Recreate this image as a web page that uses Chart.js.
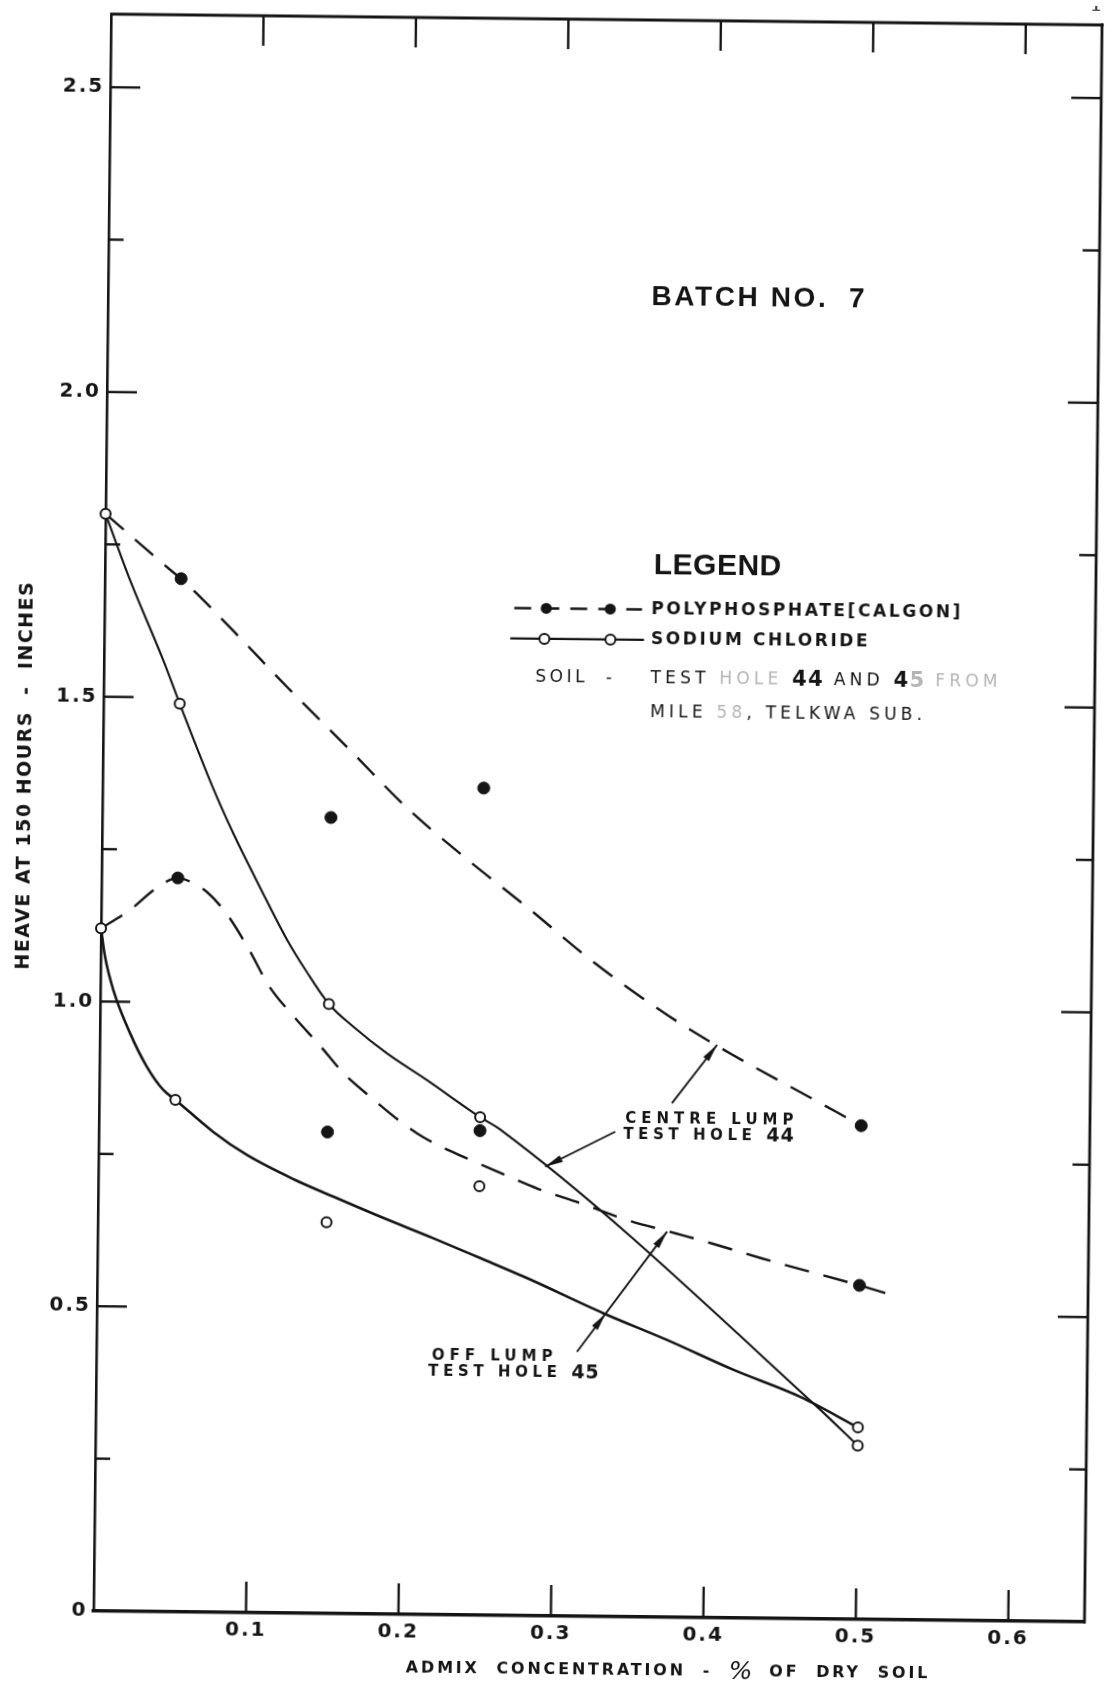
<!DOCTYPE html>
<html lang="en">
<head>
<meta charset="utf-8">
<title>Heave at 150 hours vs admix concentration - Batch No. 7</title>
<script src="https://cdn.jsdelivr.net/npm/chart.js@4.4.1/dist/chart.umd.min.js"></script>
<style>
  html, body { margin: 0; padding: 0; background: #fff; overflow: hidden; }
  /* the sheet sits very slightly skewed on the page */
  #sheet { position: absolute; left: 0; top: 0; width: 1106px; height: 1687px;
           transform: rotate(0.63deg); transform-origin: 553px 843.5px; }
  #chart { display: block; background: #fff; }
</style>
</head>
<body>
<div id="sheet"><canvas id="chart" width="1106" height="1687"></canvas></div>
<script>
// ---------------------------------------------------------------
// Test results: admix concentration (% of dry soil) vs heave (in)
// ---------------------------------------------------------------
const concentration   = [0, 0.05, 0.15, 0.25, 0.5];
const polyCentreHeave = [null, 1.695, 1.306, 1.357, 0.810];   // control shown with NaCl
const polyOffHeave    = [null, 1.204, 0.790, 0.795, 0.548];
const naclCentreHeave = [1.800, 1.490, 1.000, 0.817, 0.285];
const naclOffHeave    = [1.120, 0.840, 0.642, 0.704, 0.315];

// Faired curves drawn through the results
const polyCentreCurveX = [0, 0.043, 0.05, 0.084, 0.120, 0.162, 0.199, 0.240, 0.279, 0.324, 0.372, 0.415, 0.459, 0.5];
const polyCentreCurveY = [1.80, 1.709, 1.695, 1.612, 1.520, 1.417, 1.325, 1.239, 1.163, 1.072, 0.988, 0.924, 0.865, 0.81];

const naclCentreCurveX = [0, 0.0165, 0.0387, 0.05, 0.0725, 0.0861, 0.104, 0.122, 0.1353, 0.15, 0.1663, 0.1884, 0.2148, 0.25, 0.2633, 0.4731, 0.5];
const naclCentreCurveY = [1.80, 1.692, 1.562, 1.49, 1.352, 1.278, 1.19, 1.105, 1.052, 1.0, 0.963, 0.920, 0.877, 0.817, 0.797, 0.348, 0.285];

const polyOffCurveX = [0, 0.019, 0.036, 0.05, 0.060, 0.069, 0.082, 0.096, 0.111, 0.127, 0.145, 0.160, 0.180, 0.198, 0.213, 0.239, 0.260, 0.289, 0.316, 0.347, 0.379, 0.403, 0.435, 0.50, 0.517];
const polyOffCurveY = [1.12, 1.151, 1.187, 1.204, 1.196, 1.182, 1.147, 1.093, 1.027, 0.979, 0.930, 0.887, 0.844, 0.808, 0.783, 0.752, 0.730, 0.700, 0.678, 0.651, 0.630, 0.614, 0.591, 0.548, 0.536];

const naclOffCurveX = [0, 0.0028, 0.0085, 0.0198, 0.031, 0.042, 0.05, 0.0751, 0.0972, 0.128, 0.1543, 0.1852, 0.2203, 0.251, 0.2818, 0.3323, 0.3741, 0.4181, 0.462, 0.5];
const naclOffCurveY = [1.12, 1.074, 1.019, 0.9485, 0.894, 0.856, 0.84, 0.788, 0.751, 0.712, 0.684, 0.652, 0.6175, 0.586, 0.554, 0.4976, 0.455, 0.407, 0.364, 0.315];

// Axis ranges and labelled ticks
const xMax = 0.65, xStep = 0.1;
const yMax = 2.62, yStep = 0.25;
const yLabelled = [0, 0.5, 1.0, 1.5, 2.0, 2.5];

// ---------------------------------------------------------------
const INK = '#151515';
const FADED = '#b4b4b4';
const SANS = "'DejaVu Sans', 'Liberation Sans', sans-serif";

const pts = (xs, ys) => xs.map((x, i) => ({ x, y: ys[i] })).filter(p => p.y !== null);
const isLabelled = v => yLabelled.some(l => Math.abs(l - v) < 1e-6);

function seg(ctx, x1, y1, x2, y2, w) {
  ctx.lineWidth = w;
  ctx.beginPath(); ctx.moveTo(x1, y1); ctx.lineTo(x2, y2); ctx.stroke();
}

function head(ctx, x, y, ang, len, half) {
  const c = Math.cos(ang), s = Math.sin(ang);
  ctx.beginPath();
  ctx.moveTo(x, y);
  ctx.lineTo(x - len * c + half * s, y - len * s - half * c);
  ctx.lineTo(x - len * c - half * s, y - len * s + half * c);
  ctx.closePath(); ctx.fill();
}

// draws a sequence of differently styled text pieces on one line
function textRun(ctx, x, y, parts, align) {
  let total = 0;
  parts.forEach(p => { ctx.font = p[1]; ctx.letterSpacing = p[3] || '0px'; total += ctx.measureText(p[0]).width; });
  let cx = align === 'center' ? x - total / 2 : x;
  ctx.textAlign = 'left'; ctx.textBaseline = 'middle';
  parts.forEach(p => {
    ctx.font = p[1]; ctx.letterSpacing = p[3] || '0px'; ctx.fillStyle = p[2];
    ctx.fillText(p[0], cx, y);
    cx += ctx.measureText(p[0]).width;
  });
}

const decor = {
  id: 'decor',
  beforeDraw(chart) {
    chart.ctx.letterSpacing = '2px';
  },
  afterDraw(chart) {
    const ctx = chart.ctx;
    const xs = chart.scales.x, ys = chart.scales.y;
    const { left, right, top, bottom } = chart.chartArea;
    const P = (x, y) => [xs.getPixelForValue(x), ys.getPixelForValue(y)];
    ctx.save();
    ctx.strokeStyle = INK; ctx.fillStyle = INK; ctx.lineCap = 'butt';

    // top and right edges of the frame
    seg(ctx, left - 1, top, right + 1.5, top, 2.8);
    seg(ctx, right, top - 1.4, right, bottom + 1.5, 2.8);

    // inward tick marks on all four sides
    ys.ticks.forEach(t => {
      if (t.value <= 0) return;
      const y = ys.getPixelForValue(t.value);
      const major = isLabelled(t.value);
      seg(ctx, left, y, left + (major ? 30 : 15), y, 2.4);
      seg(ctx, right, y, right - (major ? 30 : 17), y, 2.4);
    });
    xs.ticks.forEach(t => {
      if (t.value <= 0) return;
      const x = xs.getPixelForValue(t.value);
      seg(ctx, x, bottom, x, bottom - 31, 2.4);
      seg(ctx, x, top, x, top + 30, 2.4);
    });

    // axis titles
    const B16 = 'bold 16px ' + SANS;
    textRun(ctx, left + 575, bottom + 54, [
      ['ADMIX  CONCENTRATION  -  ', B16, INK, '2.8px'],
      ['%', 'italic 25px ' + SANS, INK, '0px'],
      ['  OF  DRY  SOIL', B16, INK, '2.8px']
    ], 'center');
    ctx.save();
    ctx.translate(left - 77, top + 762);
    ctx.rotate(-Math.PI / 2);
    textRun(ctx, 0, 0, [['HEAVE AT 150 HOURS  -  INCHES', 'bold 19px ' + SANS, INK, '1.5px']], 'center');
    ctx.restore();

    // heading
    let [hx, hy] = P(0.4272, 2.1646);
    textRun(ctx, hx, hy, [['BATCH NO.  7', "bold 28px 'Liberation Sans', " + SANS, INK, '2.6px']], 'center');

    // legend block
    [hx, hy] = P(0.4019, 1.724);
    textRun(ctx, hx, hy, [['LEGEND', "bold 30px 'Liberation Sans', " + SANS, INK, '0.5px']], 'center');

    const B17 = 'bold 17px ' + SANS;
    const R16 = '17px ' + SANS;
    const B20 = 'bold 21px ' + SANS;
    let [ax, ay] = P(0.2687, 1.653), [bx] = P(0.3525, 1.653), [tx] = P(0.3586, 1.653);
    ctx.setLineDash([17, 11]);
    seg(ctx, ax, ay, bx, ay, 2.6);
    ctx.setLineDash([]);
    [0.2897, 0.3317].forEach(v => {
      const [dx] = P(v, 1.653);
      ctx.beginPath(); ctx.arc(dx, ay, 5.5, 0, Math.PI * 2); ctx.fill();
    });
    textRun(ctx, tx, ay, [['POLYPHOSPHATE[CALGON]', B17, INK, '2.6px']]);

    [ax, ay] = P(0.2663, 1.603); [bx] = P(0.354, 1.603);
    seg(ctx, ax, ay, bx, ay, 2.2);
    [0.2887, 0.332].forEach(v => {
      const [dx] = P(v, 1.603);
      ctx.beginPath(); ctx.arc(dx, ay, 5, 0, Math.PI * 2);
      ctx.fillStyle = '#fff'; ctx.fill(); ctx.lineWidth = 2; ctx.stroke();
      ctx.fillStyle = INK;
    });
    textRun(ctx, tx, ay, [['SODIUM CHLORIDE', B17, INK, '2.6px']]);

    let [sx, sy] = P(0.283, 1.539);
    textRun(ctx, sx, sy, [['SOIL  -', R16, INK, '3.5px']]);
    textRun(ctx, tx, sy, [
      ['TEST ', R16, INK, '4.2px'], ['HOLE ', R16, FADED, '4.2px'], ['44', B20, INK, '1.5px'],
      [' AND ', R16, INK, '4.2px'], ['4', B20, INK, '1.5px'], ['5', B20, FADED, '1.5px'], [' FROM', R16, FADED, '4.2px']
    ]);
    [, sy] = P(0.3586, 1.483);
    textRun(ctx, tx, sy, [
      ['MILE ', R16, INK, '4.2px'], ['58', R16, FADED, '4.2px'], [', TELKWA SUB.', R16, INK, '4.2px']
    ]);

    // curve identification notes with pointer arrows
    const B15 = 'bold 15px ' + SANS;
    let [nx, ny] = P(0.3452, 0.8176);
    textRun(ctx, nx, ny, [['CENTRE LUMP', B15, INK, '5px']]);
    [nx, ny] = P(0.344, 0.7913);
    textRun(ctx, nx, ny, [['TEST HOLE ', B15, INK, '4.6px'], ['44', 'bold 19px ' + SANS, INK, '1px']]);
    [nx, ny] = P(0.2201, 0.4245);
    textRun(ctx, nx, ny, [['OFF LUMP', B15, INK, '5px']]);
    [nx, ny] = P(0.2178, 0.399);
    textRun(ctx, nx, ny, [['TEST HOLE ', B15, INK, '4.6px'], ['45', 'bold 19px ' + SANS, INK, '1px']]);

    const arrows = [
      { from: [0.3757, 0.8435], to: [0.4049, 0.940], heads: [1] },
      { from: [0.3387, 0.7957], to: [0.293, 0.737], heads: [1] },
      { from: [0.3152, 0.434], to: [0.3734, 0.6327], heads: [0.318, 1] }
    ];
    arrows.forEach(a => {
      const [x1, y1] = P(a.from[0], a.from[1]);
      const [x2, y2] = P(a.to[0], a.to[1]);
      seg(ctx, x1, y1, x2, y2, 1.9);
      const ang = Math.atan2(y2 - y1, x2 - x1);
      a.heads.forEach(t => head(ctx, x1 + (x2 - x1) * t, y1 + (y2 - y1) * t, ang, 18, 3.6));
    });

    // sheet number in the corner
    ctx.letterSpacing = '0px';
    ctx.font = "22px 'DejaVu Serif', serif";
    ctx.fillStyle = '#444'; ctx.textAlign = 'left'; ctx.textBaseline = 'alphabetic';
    ctx.fillText('1', 1080, 5);

    ctx.restore();
  }
};

const tickFont = { family: SANS, size: 20, weight: 'bold' };

new Chart(document.getElementById('chart'), {
  type: 'scatter',
  data: {
    datasets: [
      { label: 'Polyphosphate (Calgon) - centre lump', data: pts(concentration, polyCentreHeave),
        showLine: false, pointRadius: 6, pointBackgroundColor: INK, pointBorderColor: INK, pointBorderWidth: 1, clip: false, order: 0 },
      { label: 'Polyphosphate (Calgon) - off lump', data: pts(concentration, polyOffHeave),
        showLine: false, pointRadius: 6, pointBackgroundColor: INK, pointBorderColor: INK, pointBorderWidth: 1, clip: false, order: 0 },
      { label: 'Sodium chloride - centre lump', data: pts(concentration, naclCentreHeave),
        showLine: false, pointRadius: 5, pointBackgroundColor: '#fff', pointBorderColor: INK, pointBorderWidth: 2, clip: false, order: 0 },
      { label: 'Sodium chloride - off lump', data: pts(concentration, naclOffHeave),
        showLine: false, pointRadius: 5, pointBackgroundColor: '#fff', pointBorderColor: INK, pointBorderWidth: 2, clip: false, order: 0 },

      { label: 'Polyphosphate curve - centre lump', data: pts(polyCentreCurveX, polyCentreCurveY),
        showLine: true, pointRadius: 0, borderColor: INK, borderWidth: 2.4, borderDash: [24, 15],
        cubicInterpolationMode: 'monotone', clip: false, order: 1 },
      { label: 'Polyphosphate curve - off lump', data: pts(polyOffCurveX, polyOffCurveY),
        showLine: true, pointRadius: 0, borderColor: INK, borderWidth: 2.4, borderDash: [25, 15],
        cubicInterpolationMode: 'monotone', clip: false, order: 1 },
      { label: 'Sodium chloride curve - centre lump', data: pts(naclCentreCurveX, naclCentreCurveY),
        showLine: true, pointRadius: 0, borderColor: INK, borderWidth: 2.1,
        cubicInterpolationMode: 'monotone', clip: false, order: 1 },
      { label: 'Sodium chloride curve - off lump', data: pts(naclOffCurveX, naclOffCurveY),
        showLine: true, pointRadius: 0, borderColor: INK, borderWidth: 2.6,
        cubicInterpolationMode: 'monotone', clip: false, order: 1 }
    ]
  },
  options: {
    responsive: false,
    animation: false,
    devicePixelRatio: 1,
    events: [],
    layout: { padding: { top: 19, right: 13, left: 0, bottom: 0 } },
    plugins: { legend: { display: false }, tooltip: { enabled: false }, title: { display: false } },
    scales: {
      x: {
        type: 'linear', position: 'bottom', min: 0, max: xMax,
        grid: { display: false, drawTicks: false },
        border: { display: true, color: INK, width: 3.4 },
        ticks: {
          stepSize: xStep, includeBounds: false, autoSkip: false, maxRotation: 0,
          padding: 6, color: INK, font: tickFont,
          callback: v => (v === 0 ? '' : Number(v).toFixed(1))
        },
        afterFit: s => { s.height = 71; }
      },
      y: {
        type: 'linear', position: 'left', min: 0, max: yMax,
        grid: { display: false, drawTicks: false },
        border: { display: true, color: INK, width: 2.6 },
        ticks: {
          stepSize: yStep, includeBounds: false, autoSkip: false,
          padding: 6, color: INK, font: tickFont,
          callback: v => (isLabelled(v) ? (v === 0 ? '0' : Number(v).toFixed(1)) : '')
        },
        afterFit: s => { s.width = 102; }
      }
    }
  },
  plugins: [decor]
});
</script>
</body>
</html>
